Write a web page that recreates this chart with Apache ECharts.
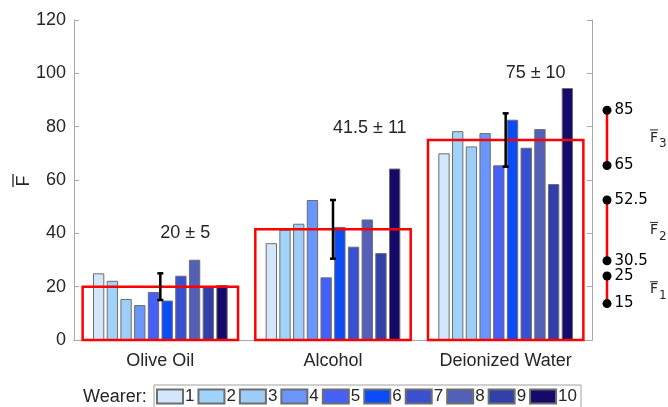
<!DOCTYPE html>
<html>
<head>
<meta charset="utf-8">
<script src="https://cdn.jsdelivr.net/npm/echarts@6/dist/echarts.min.js"></script>
<style>html,body{margin:0;padding:0;background:#fff}#c{width:668px;height:407px}</style>
</head>
<body>
<div id="c"></div>
<script>
const categories = ['Olive Oil', 'Alcohol', 'Deionized Water'];
const wearers = ['1','2','3','4','5','6','7','8','9','10'];
// values per wearer: [Olive Oil, Alcohol, Deionized Water]
const wearer1 = [25.0, 36.3, 70.0];
const wearer2 = [22.2, 41.3, 78.3];
const wearer3 = [15.4, 43.6, 72.6];
const wearer4 = [13.1, 52.5, 77.6];
const wearer5 = [18.0, 23.5, 65.5];
const wearer6 = [14.8, 42.4, 82.6];
const wearer7 = [24.1, 35.0, 72.1];
const wearer8 = [30.1, 45.2, 79.1];
const wearer9 = [20.0, 32.6, 58.5];
const wearer10 = [20.6, 64.3, 94.5];
const meanValues = [20, 41.5, 75];
const errLow = [15, 30.5, 65];
const errHigh = [25, 52.5, 85];
const summaryLabels = ['20 \u00b1 5', '41.5 \u00b1 11', '75 \u00b1 10'];
const summaryLabelY = [40, 79.5, 100];
const rangeNames = ['1', '2', '3'];
const yTicks = [0, 20, 40, 60, 80, 100, 120];

const wearerValues = [wearer1, wearer2, wearer3, wearer4, wearer5, wearer6, wearer7, wearer8, wearer9, wearer10];
const colors = ['#d3e7fa', '#a0d3fa', '#9ecdf8', '#6a96fc', '#4560f6', '#0a4cf8', '#3a50d2', '#5260b8', '#3040a8', '#15096a'];
const FONT = 'Liberation Sans, Arial, sans-serif';
const TXT = '#262626';
const AX = '#a8a8a8';

const chart = echarts.init(document.getElementById('c'), null, {renderer: 'canvas'});

const barSeries = wearers.map((w, i) => ({
  name: w, type: 'bar', xAxisIndex: 0, yAxisIndex: 0,
  data: wearerValues[i],
  barGap: '21%', barCategoryGap: '22%',
  itemStyle: {color: colors[i], borderColor: '#6e6e6e', borderWidth: 1},
  emphasis: {disabled: true}
}));

const boxSeries = {
  type: 'custom', xAxisIndex: 0, yAxisIndex: 0, z: 5, silent: true,
  data: meanValues.map((v, i) => [i, v]),
  renderItem: function (params, api) {
    const p = api.coord([api.value(0), api.value(1)]);
    const b = api.coord([api.value(0), 0]);
    const band = api.size([1, 0])[0];
    const w = band * 0.9;
    return {type: 'rect', shape: {x: p[0] - w / 2, y: p[1], width: w, height: b[1] - p[1]},
      style: {fill: 'none', stroke: '#ff0000', lineWidth: 2.5}};
  }
};

const errSeries = {
  type: 'custom', xAxisIndex: 0, yAxisIndex: 0, z: 6, silent: true,
  data: errLow.map((v, i) => [i, v, errHigh[i]]),
  renderItem: function (params, api) {
    const lo = api.coord([api.value(0), api.value(1)]);
    const hi = api.coord([api.value(0), api.value(2)]);
    const c = 3;
    const st = {stroke: '#000', lineWidth: 2.5};
    return {type: 'group', children: [
      {type: 'line', shape: {x1: lo[0], y1: lo[1], x2: hi[0], y2: hi[1]}, style: st},
      {type: 'line', shape: {x1: lo[0] - c, y1: lo[1], x2: lo[0] + c, y2: lo[1]}, style: st},
      {type: 'line', shape: {x1: hi[0] - c, y1: hi[1], x2: hi[0] + c, y2: hi[1]}, style: st}
    ]};
  }
};

const labelSeries = {
  type: 'custom', xAxisIndex: 0, yAxisIndex: 0, z: 7, silent: true,
  data: summaryLabelY.map((v, i) => [i, v]),
  renderItem: function (params, api) {
    const p = api.coord([api.value(0), api.value(1)]);
    return {type: 'text', x: p[0], y: p[1],
      style: {text: summaryLabels[params.dataIndex], font: '18px ' + FONT, fill: TXT, align: 'left', verticalAlign: 'middle'}};
  }
};

const rangeSeries = errLow.map((v, i) => ({
  type: 'line', xAxisIndex: 2, yAxisIndex: 2, silent: true,
  data: [[0.153, errHigh[i]], [0.153, v]],
  symbol: 'circle', symbolSize: 9,
  lineStyle: {color: '#ff0000', width: 2.5},
  itemStyle: {color: '#000'},
  label: {show: true, position: 'right', distance: 3, formatter: p => String(p.value[1]),
    fontFamily: 'DejaVu Sans', fontSize: 15, color: '#000'}
}));

const rangeNameSeries = {
  type: 'custom', xAxisIndex: 2, yAxisIndex: 2, silent: true,
  data: errLow.map((v, i) => [0.75, (v + errHigh[i]) / 2]),
  renderItem: function (params, api) {
    const p = api.coord([api.value(0), api.value(1)]);
    return {type: 'group', children: [
      {type: 'text', x: p[0], y: p[1], style: {text: 'F', font: '14px DejaVu Sans', fill: TXT, align: 'left', verticalAlign: 'middle'}},
      {type: 'line', shape: {x1: p[0], y1: p[1] - 8, x2: p[0] + 8, y2: p[1] - 8}, style: {stroke: TXT, lineWidth: 1}},
      {type: 'text', x: p[0] + 9, y: p[1] + 6, style: {text: rangeNames[params.dataIndex], font: '12px DejaVu Sans', fill: TXT, align: 'left', verticalAlign: 'middle'}}
    ]};
  }
};

chart.setOption({
  animation: false,
  grid: [
    {left: 74, right: 76, top: 20, bottom: 67},
    {left: 596, width: 72, top: 20, bottom: 62}
  ],
  title: {text: 'Wearer:', left: 83, top: 388, padding: 0,
    textStyle: {fontFamily: FONT, fontSize: 18, fontWeight: 'normal', color: TXT}},
  legend: {
    data: wearers, left: 154, top: 385, orient: 'horizontal',
    padding: [3, 4, 6, 2], itemGap: 3, itemWidth: 26, itemHeight: 14,
    borderColor: '#a0a0a0', borderWidth: 1, icon: 'rect', selectedMode: false,
    textStyle: {fontFamily: FONT, fontSize: 17, color: TXT, padding: [0, 0, 0, -3]}
  },
  graphic: [
    {type: 'text', x: 24, y: 181, rotation: Math.PI / 2,
      style: {text: 'F', font: '18px ' + FONT, fill: TXT, align: 'center', verticalAlign: 'middle'}},
    {type: 'line', shape: {x1: 13, y1: 174, x2: 13, y2: 187}, style: {stroke: TXT, lineWidth: 1.3}}
  ],
  xAxis: [
    {type: 'category', gridIndex: 0, data: categories, position: 'bottom',
      axisLine: {lineStyle: {color: AX, width: 1}},
      axisTick: {inside: true, alignWithLabel: true, length: 5, lineStyle: {color: AX}},
      axisLabel: {fontFamily: FONT, fontSize: 18, color: TXT, margin: 12}},
    {type: 'category', gridIndex: 0, data: categories, position: 'top',
      axisLine: {lineStyle: {color: AX, width: 1}},
      axisTick: {inside: true, alignWithLabel: true, length: 5, lineStyle: {color: AX}},
      axisLabel: {show: false}},
    {type: 'value', gridIndex: 1, min: 0, max: 1, show: false}
  ],
  yAxis: [
    {type: 'value', gridIndex: 0, min: 0, max: 120, interval: 20, position: 'left',
      axisLine: {show: true, lineStyle: {color: AX, width: 1}},
      axisTick: {show: true, inside: true, length: 5, lineStyle: {color: AX}},
      splitLine: {show: false},
      axisLabel: {fontFamily: FONT, fontSize: 18, color: TXT, margin: 8,
        customValues: yTicks}},
    {type: 'value', gridIndex: 0, min: 0, max: 120, interval: 20, position: 'right',
      axisLine: {show: true, lineStyle: {color: AX, width: 1}},
      axisTick: {show: true, inside: true, length: 5, lineStyle: {color: AX}},
      splitLine: {show: false}, axisLabel: {show: false}},
    {type: 'value', gridIndex: 1, min: 0, max: 117.7, show: false}
  ],
  series: [...barSeries, boxSeries, errSeries, labelSeries, ...rangeSeries, rangeNameSeries]
});
</script>
</body>
</html>
